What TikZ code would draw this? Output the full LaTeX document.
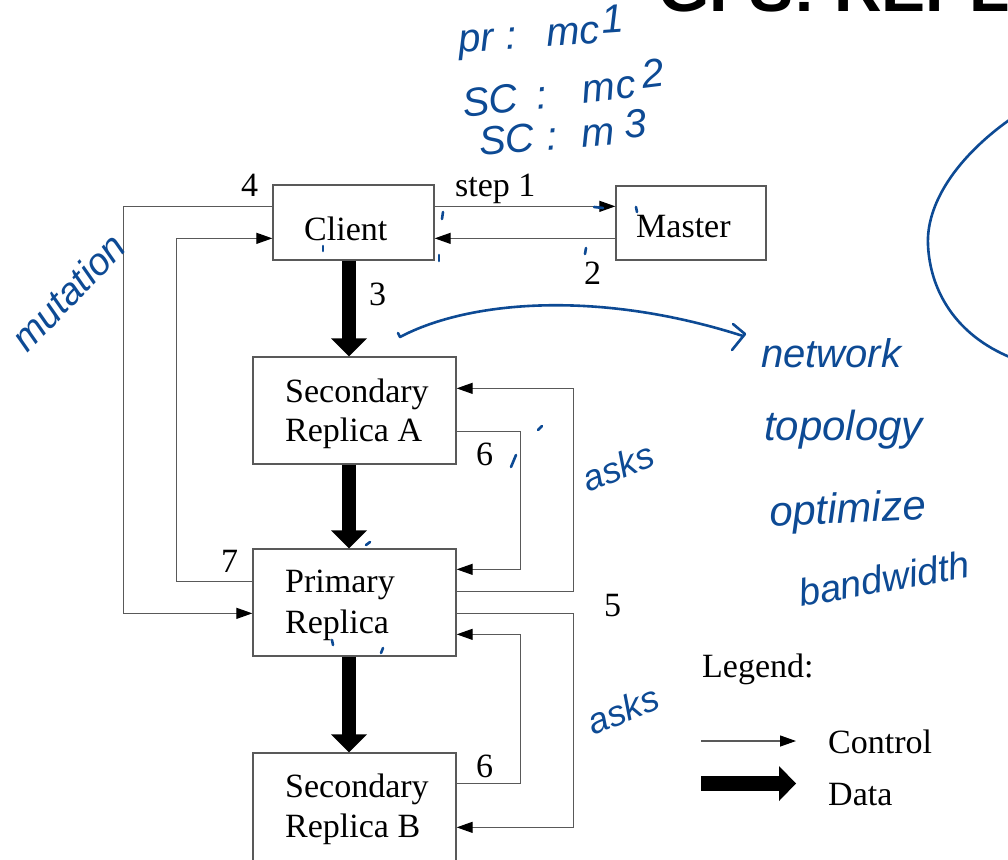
\documentclass[tikz,border=0pt]{standalone}
\usepackage{fontspec}
\setmainfont{Liberation Serif}
\newfontfamily\handfont{Liberation Sans}
\newfontfamily\titlefont{Liberation Sans}
\usetikzlibrary{arrows.meta,calc}
\definecolor{ink}{RGB}{13,74,148}
\tikzset{
  box/.style={draw=black!65, line width=1.3pt, rectangle, inner sep=0pt},
  txt/.style={inner sep=0pt, anchor=base west, font=\fontsize{34}{40}\selectfont},
  ctrl/.style={draw=black!65, line width=1.2pt, -{Triangle[length=16pt,width=11pt,color=black]}},
  shaft/.style={draw=black, line width=14pt},
  note/.style={inner sep=0pt, text=ink, font=\handfont\itshape\fontsize{36}{40}\selectfont},
  pen/.style={draw=ink, line width=2.6pt, line cap=round, line join=round},
}
\begin{document}
\begin{tikzpicture}[x=1pt,y=-1pt]
\useasboundingbox (0,0) rectangle (1008,859);
\begin{scope}
\clip (0,0) rectangle (1008,859);
% partly visible title
\node[inner sep=0pt, anchor=base west, font=\titlefont\bfseries\fontsize{66}{70}\selectfont] (title) at (658,12) {GFS: REPLICATION};

% boxes
\node[box, minimum width=161pt, minimum height=75pt] (client) at (353.5,222.5) {};
\node[box, minimum width=150pt, minimum height=74pt] (master) at (691,223) {};
\node[box, minimum width=203pt, minimum height=107pt] (seca) at (354.5,410.5) {};
\node[box, minimum width=203pt, minimum height=107pt] (primary) at (354.5,602.5) {};
\node[box, minimum width=203pt, minimum height=110pt] (secb) at (354.5,808) {};

% box texts
\node[txt] (clientT) at (304,240) {Client};
\node[txt] (masterT) at (636,237) {Master};
\node[txt] (secaT1) at (285,402) {Secondary};
\node[txt] (secaT2) at (285,441) {Replica A};
\node[txt] (primT1) at (285,592) {Primary};
\node[txt] (primT2) at (285,633) {Replica};
\node[txt] (secbT1) at (285,797) {Secondary};
\node[txt] (secbT2) at (285,837) {Replica B};

% step labels
\node[txt] (l4) at (241,196) {4};
\node[txt] (l1) at (455,196) {step 1};
\node[txt] (l2) at (584,284) {2};
\node[txt] (l3) at (369,305) {3};
\node[txt] (l6a) at (476,465) {6};
\node[txt] (l7) at (221,572) {7};
\node[txt] (l5) at (604,616) {5};
\node[txt] (l6b) at (476,777) {6};

% control flow
\draw[ctrl] ([yshift=-22pt]client.north east) -- ([yshift=-21pt]master.north west);
\draw[ctrl] ([yshift=-53pt]master.north west) -- ([yshift=-54pt]client.north east);
\draw[ctrl] ([yshift=-22pt]client.north west) -| ([xshift=-129pt,yshift=-65pt]primary.north west) -- ([yshift=-65pt]primary.north west);
\draw[ctrl] ([yshift=-33pt]primary.north west) -| ([xshift=-96pt,yshift=-54pt]client.north west) -- ([yshift=-54pt]client.north west);
\draw[ctrl] ([yshift=-75pt]seca.north east) -| ([xshift=64pt,yshift=-21pt]primary.north east) -- ([yshift=-21pt]primary.north east);
\draw[ctrl] ([yshift=-43pt]primary.north east) -| ([xshift=117pt,yshift=-32pt]seca.north east) -- ([yshift=-32pt]seca.north east);
\draw[ctrl] ([yshift=-65pt]primary.north east) -| ([xshift=117pt,yshift=-75pt]secb.north east) -- ([yshift=-75pt]secb.north east);
\draw[ctrl] ([yshift=-31pt]secb.north east) -| ([xshift=64pt,yshift=-86pt]primary.north east) -- ([yshift=-86pt]primary.north east);

% data flow
\coordinate (dx) at (349,0);
\draw[shaft] (dx|-client.south) -- ($(dx|-seca.north)+(0,-17)$);
\fill (dx|-seca.north) -- ++(-18,-18) -- ++(36,0) -- cycle;
\draw[shaft] (dx|-seca.south) -- ($(dx|-primary.north)+(0,-17)$);
\fill (dx|-primary.north) -- ++(-18,-18) -- ++(36,0) -- cycle;
\draw[shaft] (dx|-primary.south) -- ($(dx|-secb.north)+(0,-17)$);
\fill (dx|-secb.north) -- ++(-18,-18) -- ++(36,0) -- cycle;

% legend
\node[txt] (legend) at (702,677) {Legend:};
\coordinate (lc1) at (701,741);
\coordinate (lc2) at (796,741);
\draw[ctrl] (lc1) -- (lc2);
\node[txt] (lcT) at (828,753) {Control};
\coordinate (ld1) at (701,783.5);
\coordinate (ld2) at (796,783.5);
\draw[shaft, line width=15pt] (ld1) -- ($(ld2)+(-16,0)$);
\fill (ld2) -- ++(-17,-17.5) -- ++(0,35) -- cycle;
\node[txt] (ldT) at (828,805) {Data};

% handwritten notes
\node[note, anchor=base west, rotate=4, font=\handfont\itshape\fontsize{40}{44}\selectfont] (n1) at (459,53) {pr\hspace{12pt}:\hspace{30pt}mc\hspace{2pt}\raisebox{9pt}{1}};
\node[note, anchor=base west, rotate=7, font=\handfont\itshape\fontsize{40}{44}\selectfont] (n2) at (464,118) {SC\hspace{18pt}:\hspace{36pt}mc\hspace{8pt}\raisebox{7pt}{2}};
\node[note, anchor=base west, rotate=5, font=\handfont\itshape\fontsize{40}{44}\selectfont] (n3) at (480,156) {SC\hspace{12pt}:\hspace{24pt}m\hspace{10pt}\raisebox{5pt}{3}};
\node[note, rotate=46, font=\handfont\itshape\fontsize{38}{40}\selectfont] (n4) at (68,292) {mutation};
\node[note, anchor=base west, font=\handfont\itshape\fontsize{40}{44}\selectfont] (n5) at (761,367) {network};
\node[note, anchor=base west, font=\handfont\itshape\fontsize{42}{44}\selectfont] (n6) at (764,440) {topology};
\node[note, anchor=base west, rotate=3, font=\handfont\itshape\fontsize{42}{44}\selectfont] (n7) at (770,527) {optimize};
\node[note, anchor=base west, rotate=10, font=\handfont\itshape\fontsize{38}{44}\selectfont] (n8) at (801,607) {bandwidth};
\node[note, rotate=22] (n9) at (618,467) {asks};
\node[note, rotate=22] (n10) at (623,710) {asks};

% pen strokes
\draw[pen] (398,333) -- (400,337) .. controls (470,300) and (600,290) .. (743,336);
\draw[pen] (733,324) -- (745,334) -- (732,350);
\draw[pen] (1012,118) .. controls (955,158) and (926,205) .. (928,245) .. controls (930,290) and (955,335) .. (1012,358);
% small marks
\draw[pen] (443,212) -- (442,219);
\draw[pen] (439,255) -- (439,261);
\draw[pen] (323,246) -- (323,251);
\draw[pen] (594,207) -- (603,208);
\draw[pen] (636,207) -- (637,212);
\draw[pen] (586,248) -- (585,254);
\draw[pen] (538,430) -- (542,426);
\draw[pen] (511,467) -- (516,455);
\draw[pen] (366,545) -- (370,542);
\draw[pen] (332,640) -- (333,645);
\draw[pen] (383,648) -- (381,653);
\end{scope}
\end{tikzpicture}
\end{document}
